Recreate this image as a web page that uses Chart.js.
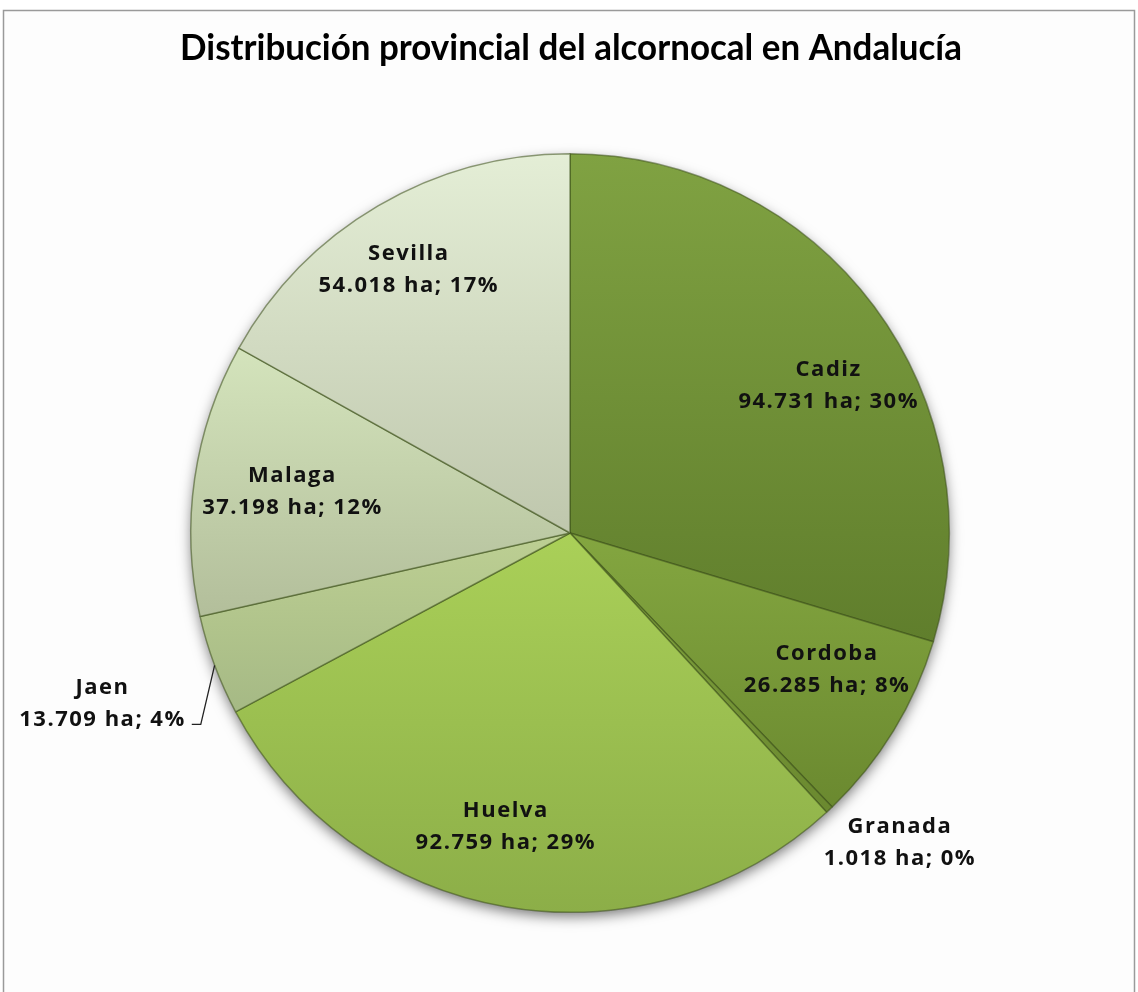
<!DOCTYPE html>
<html><head><meta charset="utf-8">
<script src="https://cdn.jsdelivr.net/npm/chart.js@4.4.1/dist/chart.umd.min.js"></script>
<style>html,body{margin:0;padding:0;background:#fff;overflow:hidden}#wrap{width:1138px;height:992px;position:relative}</style>
</head><body><div id="wrap"><canvas id="c" width="1138" height="992"></canvas></div>
<script>
const chartTitle = 'Distribución provincial del alcornocal en Andalucía';
const categories = ['Cadiz','Cordoba','Granada','Huelva','Jaen','Malaga','Sevilla'];
const hectares = [94731, 26285, 1018, 92759, 13709, 37198, 54018];
const percentLabels = ['30%','8%','0%','29%','4%','12%','17%'];

// styles (not data)
const topColors    = ['#80a242','#a6ce57','#a6ce57','#c8f268','#efffb1','#ecffd4','#e4eed6'];
const bottomColors = ['#4e6a20','#617e29','#617e29','#8cae48','#8ba075','#8e9576','#9aa084'];
// label placement: [radius factor, angle shift in degrees]
const labelPlace = [[0.785,7],[0.768,-3.4],[1.194,-3.6],[0.793,2.7],[1.312,0.4],[0.74,0.3],[0.813,-1.1]];

function fmtHa(v){ return String(v).replace(/\B(?=(\d{3})+(?!\d))/g,'.') + ' ha'; }

const framePlugin = {
  id:'frame',
  beforeDraw(chart){
    const c = chart.ctx;
    c.save();
    c.fillStyle = '#ffffff'; c.fillRect(0,0,chart.width,chart.height);
    c.fillStyle = '#fdfdfd'; c.fillRect(4,11,1130,990);
    c.strokeStyle = '#9a9a9a'; c.lineWidth = 1.5;
    c.beginPath(); c.moveTo(3.5,1000); c.lineTo(3.5,10.5); c.lineTo(1134.5,10.5); c.lineTo(1134.5,1000); c.stroke();
    // title
    c.font = 'bold 36px Lato';
    c.fillStyle = '#000';
    c.textBaseline = 'alphabetic';
    const w = c.measureText(chartTitle).width;
    const target = 782;
    c.translate(571, 60);
    c.scale(target / w, 1);
    c.textAlign = 'center';
    c.fillText(chartTitle, 0, 0);
    c.restore();
  },
  beforeDatasetsDraw(chart){
    const meta = chart.getDatasetMeta(0);
    const a = meta.data[0];
    if(!a) return;
    const c = chart.ctx;
    c.save();
    c.shadowColor = 'rgba(0,0,0,0.55)';
    c.shadowBlur = 14;
    c.shadowOffsetY = 5;
    c.fillStyle = '#7a8a5a';
    c.beginPath(); c.arc(a.x, a.y, a.outerRadius - 1, 0, Math.PI*2); c.fill();
    c.restore();
  },
  afterDatasetsDraw(chart){
    const meta = chart.getDatasetMeta(0);
    const c = chart.ctx;
    c.save();
    c.fillStyle = '#111';
    c.font = 'bold 22px "Open Sans"';
    c.letterSpacing = '1.5px';
    c.textAlign = 'center';
    c.textBaseline = 'middle';
    meta.data.forEach((arc, i) => {
      const p = arc.getProps(['x','y','startAngle','endAngle','outerRadius'], true);
      const mid = (p.startAngle + p.endAngle)/2 + labelPlace[i][1]*Math.PI/180;
      const r = p.outerRadius * labelPlace[i][0];
      const lx = p.x + Math.cos(mid)*r, ly = p.y + Math.sin(mid)*r;
      c.fillText(categories[i], lx, ly - 16);
      const l2 = fmtHa(hectares[i]) + '; ' + percentLabels[i];
      c.fillText(l2, lx, ly + 16);
      if (labelPlace[i][0] > 1.25) {
        const m0 = (p.startAngle + p.endAngle)/2;
        const sx = p.x + Math.cos(m0)*p.outerRadius, sy = p.y + Math.sin(m0)*p.outerRadius;
        const half = c.measureText(l2).width/2;
        const ex = lx + half + 6, ey = ly + 21;
        c.strokeStyle = '#222'; c.lineWidth = 1.3;
        c.beginPath(); c.moveTo(sx, sy); c.lineTo(ex + 9, ey); c.lineTo(ex, ey); c.stroke();
      }
    });
    c.restore();
  }
};

new Chart(document.getElementById('c'), {
  type: 'pie',
  data: {
    labels: categories,
    datasets: [{
      data: hectares,
      backgroundColor: (ctx) => {
        const chart = ctx.chart; const a = chart.chartArea;
        if (!a) return topColors[ctx.dataIndex];
        const g = chart.ctx.createLinearGradient(0, a.top, 0, a.bottom);
        g.addColorStop(0, topColors[ctx.dataIndex]);
        g.addColorStop(1, bottomColors[ctx.dataIndex]);
        return g;
      },
      borderColor: 'rgba(60,80,25,0.55)',
      borderWidth: 1.5
    }]
  },
  options: {
    responsive: false,
    animation: false,
    layout: { padding: { top: 153, bottom: 79, left: 190, right: 188 } },
    plugins: { legend: { display: false }, tooltip: { enabled: false }, title: { display: false } }
  },
  plugins: [framePlugin]
});
</script>
</body></html>
